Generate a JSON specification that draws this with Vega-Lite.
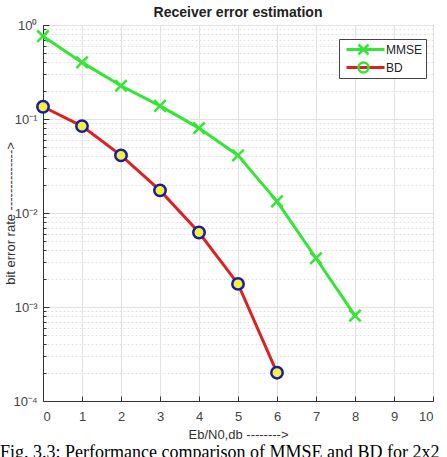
{
  "$schema": "https://vega.github.io/schema/vega-lite/v6.json",
  "background": "white",
  "padding": {"left": 0, "top": 5, "right": 4, "bottom": 0},
  "config": {
    "font": "Liberation Sans",
    "view": {"stroke": "#333", "strokeWidth": 1}
  },
  "title": {
    "text": "Fig. 3.3: Performance comparison of MMSE and BD for 2x2",
    "orient": "bottom",
    "anchor": "start",
    "frame": "bounds",
    "font": "Liberation Serif",
    "fontSize": 18,
    "fontWeight": "normal",
    "color": "#000",
    "offset": 2,
    "dx": -4
  },
  "vconcat": [
    {
      "width": 390,
      "height": 376,
      "title": {
        "text": "Receiver error estimation",
        "anchor": "middle",
        "fontSize": 14,
        "fontWeight": "bold",
        "color": "#222",
        "offset": -1
      },
      "data": {
        "values": [
          {"snr": 0, "ber": 0.76, "series": "MMSE"},
          {"snr": 1, "ber": 0.40, "series": "MMSE"},
          {"snr": 2, "ber": 0.226, "series": "MMSE"},
          {"snr": 3, "ber": 0.138, "series": "MMSE"},
          {"snr": 4, "ber": 0.080, "series": "MMSE"},
          {"snr": 5, "ber": 0.041, "series": "MMSE"},
          {"snr": 6, "ber": 0.0133, "series": "MMSE"},
          {"snr": 7, "ber": 0.0033, "series": "MMSE"},
          {"snr": 8, "ber": 0.00081, "series": "MMSE"},
          {"snr": 0, "ber": 0.135, "series": "BD"},
          {"snr": 1, "ber": 0.084, "series": "BD"},
          {"snr": 2, "ber": 0.041, "series": "BD"},
          {"snr": 3, "ber": 0.0174, "series": "BD"},
          {"snr": 4, "ber": 0.0062, "series": "BD"},
          {"snr": 5, "ber": 0.00176, "series": "BD"},
          {"snr": 6, "ber": 0.0002, "series": "BD"}
        ]
      },
      "encoding": {
        "x": {
          "field": "snr",
          "type": "quantitative",
          "scale": {"domain": [0, 10], "nice": false, "zero": false},
          "axis": {
            "values": [0, 1, 2, 3, 4, 5, 6, 7, 8, 9, 10],
            "grid": true,
            "gridColor": "#e2e2e2",
            "tickSize": -5,
            "tickColor": "#333",
            "domainColor": "#333",
            "labelPadding": 14,
            "labelFontSize": 13,
            "labelColor": "#444",
            "title": "Eb/N0,db -------->",
            "titleFontSize": 13,
            "titleFontWeight": "normal",
            "titleColor": "#333",
            "titlePadding": 5
          }
        },
        "y": {
          "field": "ber",
          "type": "quantitative",
          "scale": {"type": "log", "domain": [0.0001, 1], "nice": false},
          "axis": {
            "values": [0.0001, 0.0002, 0.0003, 0.0004, 0.0005, 0.0006, 0.0007, 0.0008, 0.0009,
                       0.001, 0.002, 0.003, 0.004, 0.005, 0.006, 0.007, 0.008, 0.009,
                       0.01, 0.02, 0.03, 0.04, 0.05, 0.06, 0.07, 0.08, 0.09,
                       0.1, 0.2, 0.3, 0.4, 0.5, 0.6, 0.7, 0.8, 0.9, 1],
            "grid": true,
            "gridColor": "#e2e2e2",
            "gridDash": {
              "condition": {"test": "abs(log(datum.value)/LN10 - round(log(datum.value)/LN10)) < 0.001", "value": []},
              "value": [2, 2]
            },
            "tickSize": {
              "condition": {"test": "abs(log(datum.value)/LN10 - round(log(datum.value)/LN10)) < 0.001", "value": -6},
              "value": -3
            },
            "tickColor": "#333",
            "domainColor": "#333",
            "labelOverlap": false,
            "labelExpr": "abs(log(datum.value)/LN10 - round(log(datum.value)/LN10)) < 0.001 ? (round(log(datum.value)/LN10) == 0 ? '10⁰' : round(log(datum.value)/LN10) == -1 ? '10⁻¹' : round(log(datum.value)/LN10) == -2 ? '10⁻²' : round(log(datum.value)/LN10) == -3 ? '10⁻³' : '10⁻⁴') : ''",
            "labelPadding": 12,
            "labelFontSize": 13,
            "labelColor": "#444",
            "title": "bit error rate -------------->",
            "titleFontSize": 13,
            "titleFontWeight": "normal",
            "titleColor": "#333",
            "titleX": -25.5
          }
        }
      },
      "layer": [
        {
          "mark": {"type": "line", "strokeWidth": 3},
          "encoding": {
            "stroke": {
              "field": "series",
              "type": "nominal",
              "scale": {"domain": ["MMSE", "BD"], "range": ["#33e633", "#dd2020"]},
              "legend": {
                "title": null,
                "orient": "none",
                "legendX": 296,
                "legendY": 14,
                "padding": 4,
                "symbolType": "M-3.8,0H3.8",
                "symbolSize": 100,
                "symbolStrokeWidth": 3,
                "symbolOffset": 16,
                "labelOffset": 14,
                "rowPadding": 5,
                "labelFontSize": 12,
                "labelColor": "#222",
                "strokeColor": "#444",
                "fillColor": "white",
                "zindex": 1
              }
            }
          }
        },
        {
          "mark": {"type": "point", "size": 130, "strokeWidth": 2.5, "opacity": 1, "filled": false},
          "encoding": {
            "shape": {
              "field": "series",
              "type": "nominal",
              "sort": "descending",
              "scale": {"range": ["M-1,-1L1,1M-1,1L1,-1", "circle"]},
              "legend": {
                "title": null,
                "orient": "none",
                "legendX": 296,
                "legendY": 14,
                "padding": 4,
                "symbolSize": 100,
                "symbolStrokeWidth": 2.5,
                "symbolOffset": 14,
                "labelOffset": 14,
                "rowPadding": -3,
                "labelFontSize": 12,
                "labelExpr": "''",
                "zindex": 2,
                "encode": {
                  "symbols": {
                    "fill": {"condition": {"test": "datum.value === 'BD'", "value": "#f2f23a"}, "value": "transparent"},
                    "stroke": {"condition": {"test": "datum.value === 'BD'", "value": "#1a1aa8"}, "value": "#33e633"},
                    "opacity": {"value": 1}
                  }
                }
              }
            },
            "stroke": {
              "condition": {"test": "datum.series === 'BD'", "value": "#1a1aa8"},
              "value": "#33e633"
            },
            "fill": {
              "condition": {"test": "datum.series === 'BD'", "value": "#f2f23a"},
              "value": "transparent"
            }
          }
        }
      ]
    }
  ]
}
